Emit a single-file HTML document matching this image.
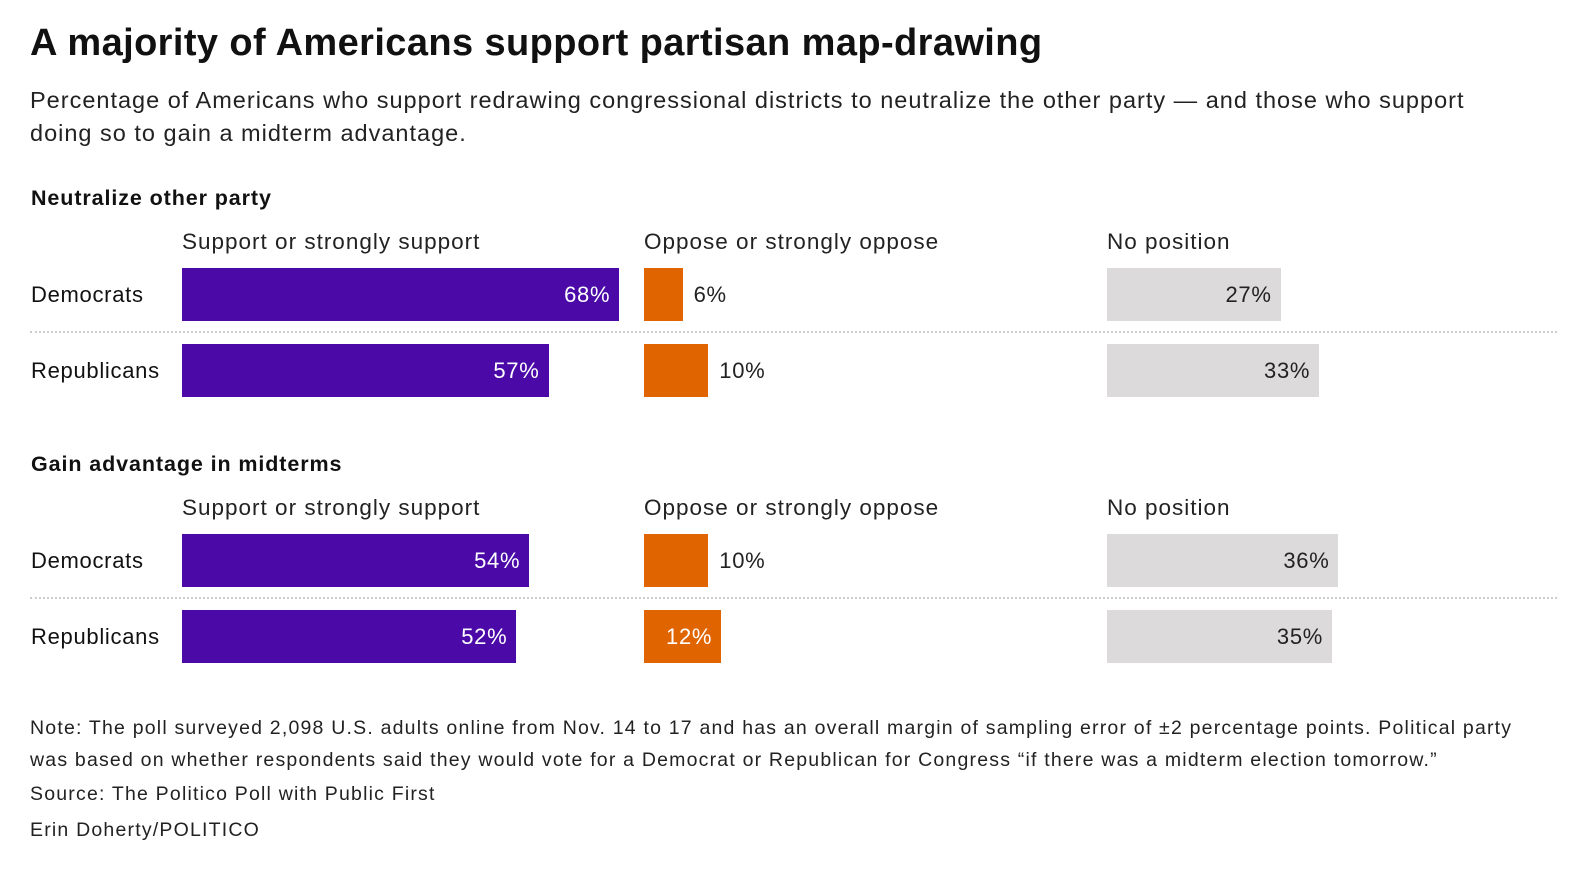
<!DOCTYPE html>
<html><head><meta charset="utf-8">
<style>
body{margin:0;width:1578px;height:880px;background:#fff;font-family:"Liberation Sans",sans-serif;color:#111;position:relative;overflow:hidden}
.a{position:absolute;white-space:nowrap}
.t{left:30px;top:22px;font-size:38px;font-weight:bold;letter-spacing:0.4px}
.s{left:30px;top:84px;font-size:23.5px;line-height:33px;white-space:normal;width:1500px;color:#222;letter-spacing:1px}
.h{font-size:21.5px;font-weight:bold;letter-spacing:0.9px}
.c{font-size:22.5px;color:#222;letter-spacing:1px}
.bar{position:absolute;height:53px}
.lab{position:absolute;font-size:22px;line-height:53px;letter-spacing:0.7px}
.sep{position:absolute;left:30px;width:1527px;border-top:2px dotted #ccc;height:0}
.n{left:30px;font-size:19.5px;color:#222;letter-spacing:1.2px}
</style></head><body>
<div class="a t">A majority of Americans support partisan map-drawing</div>
<div class="a s">Percentage of Americans who support redrawing congressional districts to neutralize the other party — and those who support doing so to gain a midterm advantage.</div>
<div id="chart"></div>
<div class="a n" style="top:712px;line-height:32px;white-space:normal;width:1515px">Note: The poll surveyed 2,098 U.S. adults online from Nov. 14 to 17 and has an overall margin of sampling error of ±2 percentage points. Political party was based on whether respondents said they would vote for a Democrat or Republican for Congress “if there was a midterm election tomorrow.”</div>
<div class="a n" style="top:783px">Source: The Politico Poll with Public First</div>
<div class="a n" style="top:819px">Erin Doherty/POLITICO</div>
<script>
const sections=["Neutralize other party","Gain advantage in midterms"];
const parties=["Democrats","Republicans"];
const columns=["Support or strongly support","Oppose or strongly oppose","No position"];
const supportVals=[[68,57],[54,52]];
const opposeVals=[[6,10],[10,12]];
const noPosVals=[[27,33],[36,35]];
const colX=[182,644,1107], colors=["#4b0aa8","#e06400","#dcdada"], scale=6.43;
const secTop=[186,452];
const root=document.getElementById('chart');
function mk(cls,style,text){const d=document.createElement('div');d.className=cls;d.style.cssText=style;if(text!==undefined)d.textContent=text;root.appendChild(d);return d;}
sections.forEach((sec,si)=>{
  const y0=secTop[si];
  const h=mk('a h','left:31px;top:'+y0+'px',sec);
  
  
  columns.forEach((c,ci)=>{
    const e=mk('a c','left:'+colX[ci]+'px;top:'+(y0+43)+'px',c);
    
    
  });
  const sep=mk('sep','top:'+(y0+145)+'px');
  
  
  parties.forEach((p,pi)=>{
    const by=y0+82+pi*76;
    const rl=mk('lab','left:31px;top:'+by+'px',p);
    
    
    [supportVals,opposeVals,noPosVals].forEach((arr,ci)=>{
      const v=arr[si][pi], w=v*scale;
      const b=mk('bar','left:'+colX[ci]+'px;top:'+by+'px;width:'+w+'px;background:'+colors[ci]);
      
      
      const inside=w>70;
      const col=inside?(ci==2?'#222':'#fff'):'#222';
      const l=inside?mk('lab','left:'+colX[ci]+'px;width:'+(w-9)+'px;text-align:right;top:'+by+'px;color:'+col,v+'%')
                    :mk('lab','left:'+(colX[ci]+w+11)+'px;top:'+by+'px;color:'+col,v+'%');
      
      
    });
  });
});
</script>
</body></html>
